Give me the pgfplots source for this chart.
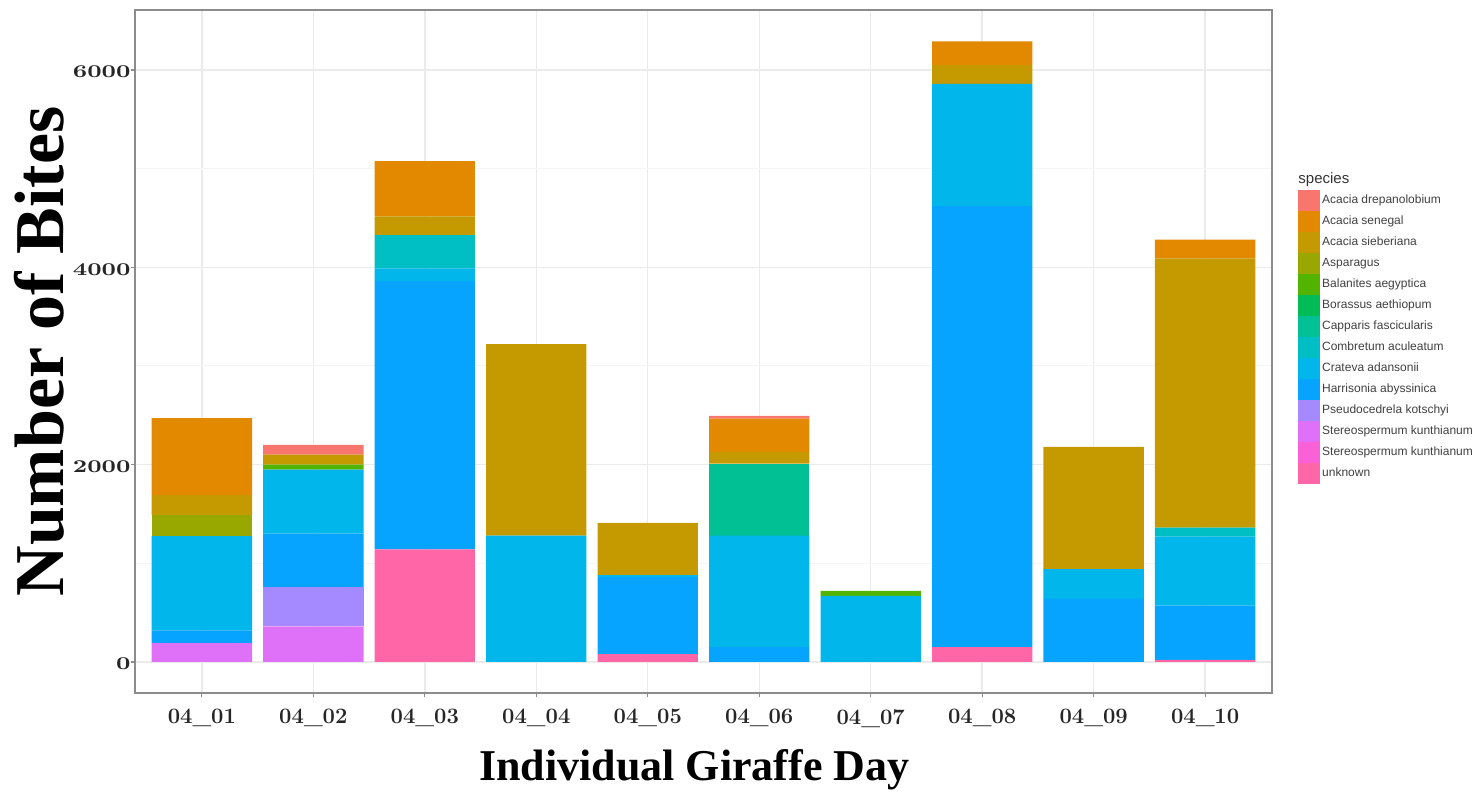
\documentclass[border=0pt]{standalone}
\usepackage{fontspec}
\usepackage{pgfplots}
\usepackage{pgfplotstable}
\pgfplotsset{compat=1.18}
\newfontfamily\titlefont{Liberation Serif}
\newfontfamily\legfont{Liberation Sans}
\definecolor{cdre}{HTML}{F8766D}
\definecolor{csen}{HTML}{E38900}
\definecolor{csie}{HTML}{C49A00}
\definecolor{casp}{HTML}{99A800}
\definecolor{cbal}{HTML}{53B400}
\definecolor{cbor}{HTML}{00BC56}
\definecolor{ccap}{HTML}{00C094}
\definecolor{ccom}{HTML}{00BFC4}
\definecolor{ccra}{HTML}{00B6EB}
\definecolor{char}{HTML}{06A4FF}
\definecolor{cpse}{HTML}{A58AFF}
\definecolor{csta}{HTML}{DF70F8}
\definecolor{cstb}{HTML}{FB61D7}
\definecolor{cunk}{HTML}{FF66A8}
\pgfplotstableread{
x dre sen sie asp bal bor cap com cra har pse sta stb unk
0 0 780 200 215 0 0 0 0 955 130 0 190 0 0
1 100 0 100 0 50 0 0 0 650 540 400 360 0 0
2 0 560 190 0 0 0 0 335 130 2720 0 0 0 1140
3 0 0 1940 0 0 0 0 0 1280 0 0 0 0 0
4 0 0 530 0 0 0 0 0 20 780 0 0 0 80
5 30 335 120 0 0 0 730 0 1130 150 0 0 0 0
6 0 0 0 0 50 0 0 0 670 0 0 0 0 0
7 0 240 190 0 0 0 0 0 1240 4470 0 0 0 150
8 0 0 1240 0 0 0 0 0 300 640 0 0 0 0
9 0 190 2730 0 0 0 0 90 700 550 0 0 0 20
}\datatable
\begin{document}
\begin{tikzpicture}
\useasboundingbox (-67.5pt,-50pt) rectangle (672pt,346.5pt);
\begin{axis}[
  name=ax,
  at={(0,0)}, anchor=south west,
  scale only axis, width=568.5pt, height=341.5pt,
  ybar stacked, bar width=0.9,
  xmin=-0.6, xmax=9.6, ymin=-315, ymax=6608,
  xtick={0,...,9},
  xticklabels={04\_01,04\_02,04\_03,04\_04,04\_05,04\_06,04\_07,04\_08,04\_09,04\_10},
  ytick={0,2000,4000,6000}, minor ytick={1000,3000,5000},
  scaled y ticks=false,
  /pgf/number format/1000 sep={},
  /pgf/number format/assume math mode=true,
  grid=both,
  major grid style={color=black!8, line width=0.7pt},
  minor grid style={color=black!4, line width=0.5pt},
  axis line style={color=black!45, line width=0.6pt},
  tick pos=left, tick align=outside,
  major tick length=2.2pt, minor tick length=0pt,
  tick style={color=black!45, line width=0.6pt},
  yticklabel style={font=\bfseries\fontsize{9}{10}\selectfont, xscale=1.35, text=black!85, xshift=3.5pt, yshift=-1pt},
  xticklabel style={font=\bfseries\fontsize{11}{12}\selectfont, text=black!85, yshift=-2.5pt},
  ylabel={Number of Bites},
  ylabel style={font=\titlefont\bfseries\fontsize{35}{40}\selectfont, at={(axis description cs:-0.0845,0.5)}, anchor=center},
  xlabel={Individual Giraffe Day},
  xlabel style={font=\titlefont\bfseries\fontsize{22}{26}\selectfont, at={(axis description cs:0.492,-0.1127)}, anchor=center},
  legend style={at={(axis description cs:1.0229,0.7365)}, anchor=north west, draw=none, fill=none,
    inner sep=0pt, outer sep=0pt, font=\legfont\fontsize{6}{7}\selectfont,
    row sep=0pt, column sep=0.6pt, nodes={inner sep=0.45pt, text=black!75}},
  legend cell align=left,
  reverse legend,
  legend image code/.code={\fill[#1, draw=none] (0pt,-5.25pt) rectangle (11pt,5.25pt);},
]
\addplot[fill=cunk, draw=none] table[x=x, y=unk] {\datatable}; \addlegendentry{unknown}
\addplot[fill=cstb, draw=none] table[x=x, y=stb] {\datatable}; \addlegendentry{Stereospermum kunthianum}
\addplot[fill=csta, draw=none] table[x=x, y=sta] {\datatable}; \addlegendentry{Stereospermum kunthianum}
\addplot[fill=cpse, draw=none] table[x=x, y=pse] {\datatable}; \addlegendentry{Pseudocedrela kotschyi}
\addplot[fill=char, draw=none] table[x=x, y=har] {\datatable}; \addlegendentry{Harrisonia abyssinica}
\addplot[fill=ccra, draw=none] table[x=x, y=cra] {\datatable}; \addlegendentry{Crateva adansonii}
\addplot[fill=ccom, draw=none] table[x=x, y=com] {\datatable}; \addlegendentry{Combretum aculeatum}
\addplot[fill=ccap, draw=none] table[x=x, y=cap] {\datatable}; \addlegendentry{Capparis fascicularis}
\addplot[fill=cbor, draw=none] table[x=x, y=bor] {\datatable}; \addlegendentry{Borassus aethiopum}
\addplot[fill=cbal, draw=none] table[x=x, y=bal] {\datatable}; \addlegendentry{Balanites aegyptica}
\addplot[fill=casp, draw=none] table[x=x, y=asp] {\datatable}; \addlegendentry{Asparagus}
\addplot[fill=csie, draw=none] table[x=x, y=sie] {\datatable}; \addlegendentry{Acacia sieberiana}
\addplot[fill=csen, draw=none] table[x=x, y=sen] {\datatable}; \addlegendentry{Acacia senegal}
\addplot[fill=cdre, draw=none] table[x=x, y=dre] {\datatable}; \addlegendentry{Acacia drepanolobium}
\end{axis}
\node[anchor=west, inner sep=0pt, font=\legfont\fontsize{7.5}{8}\selectfont, text=black!80] at ([xshift=13pt, yshift=-85pt]ax.north east) {species};
\end{tikzpicture}
\end{document}
